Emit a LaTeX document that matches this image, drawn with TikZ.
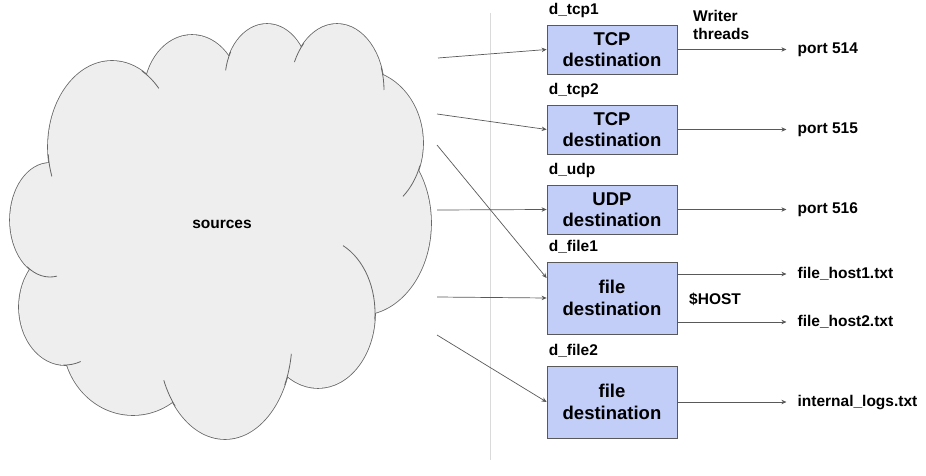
\documentclass[tikz,border=0pt]{standalone}
\usepackage{fontspec}
\setmainfont{Liberation Sans}
\usepackage{xcolor}
\usepackage{tikz}
\usetikzlibrary{positioning,arrows.meta}

\definecolor{boxblue}{RGB}{194,206,247}
\definecolor{edgegray}{RGB}{89,89,89}
\definecolor{cloudfill}{RGB}{238,238,238}
\definecolor{cloudline}{RGB}{102,102,102}
\definecolor{sepgray}{RGB}{218,218,218}

\begin{document}
\begin{tikzpicture}[x=1pt, y=-1pt,
    block/.style={rectangle, draw=edgegray, line width=0.8pt, fill=boxblue, minimum width=130pt, minimum height=49pt, align=center, inner sep=2pt, font=\fontsize{18.5}{21.5}\selectfont\bfseries},
    lbl/.style={inner sep=2pt, text height=11pt, text depth=3pt, font=\fontsize{15.5}{18}\selectfont\bfseries},
    arrow/.style={-{Stealth[length=5pt,width=4.5pt]}, draw=edgegray, line width=0.7pt},
    lobe/.style={draw=cloudline, line width=1.6pt},
    curl/.style={draw=cloudline, line width=0.8pt}]

    \useasboundingbox (0,0) rectangle (926,476);

    % cloud: thick outlines first, fill on top leaves the outer half
    \foreach \cx/\cy/\rx/\ry in {112/147/64/86, 192/95/48/60, 267/80/42/56, 337/90/47/66,
        360/143/63/73, 360/223/71/92, 318/313/57/75, 225/340/67/99, 133/340/70/75,
        65/307/46/58, 50/220/40/57}
        \draw[lobe] (\cx,\cy) ellipse[x radius=\rx, y radius=\ry];
    \foreach \cx/\cy/\rx/\ry in {112/147/64/86, 192/95/48/60, 267/80/42/56, 337/90/47/66,
        360/143/63/73, 360/223/71/92, 318/313/57/75, 225/340/67/99, 133/340/70/75,
        65/307/46/58, 50/220/40/57, 225/235/160/150}
        \fill[cloudfill] (\cx,\cy) ellipse[x radius=\rx, y radius=\ry];
    \foreach \cx/\cy/\rx/\ry/\a/\b in {112/147/64/86/175/160, 112/147/64/86/-62/-43,
        267/80/42/56/-150/-170, 337/90/47/66/-135/-155, 337/90/47/66/-20/0,
        360/143/63/73/18/47, 318/313/57/75/5/-64, 225/340/67/99/27/8,
        225/340/67/99/138/156, 65/307/46/58/92/70, 50/220/40/57/125/80}
        \draw[curl] ({\cx+\rx*cos(\a)},{\cy+\ry*sin(\a)}) arc[start angle=\a, end angle=\b, x radius=\rx, y radius=\ry];
    \node[lbl] (sources) at (222,224) {sources};

    % separator
    \coordinate (septop) at (490,13);
    \coordinate (sepbot) at (490,460);
    \draw[sepgray, line width=0.8pt] (septop) -- (sepbot);

    % destinations
    \node[block] (tcpa) at (612,49.5) {TCP\\destination};
    \node[block, below=30.2pt of tcpa] (tcpb) {TCP\\destination};
    \node[block, below=30.2pt of tcpb] (udp) {UDP\\destination};
    \node[block, minimum height=72pt, below=27.2pt of udp] (filea) {file\\destination};
    \node[block, minimum height=72pt, below=31.2pt of filea] (fileb) {file\\destination};

    \foreach \b/\t in {tcpa/d\_tcp1, tcpb/d\_tcp2, udp/d\_udp, filea/d\_file1, fileb/d\_file2}
        \node[lbl, anchor=base west] (name-\b) at ([yshift=10pt]\b.north west) {\t};

    \node[inner sep=2pt, align=left, anchor=west, font=\fontsize{15.5}{18}\selectfont\bfseries] (writer) at (691,25) {Writer\\threads};
    \node[lbl, anchor=west] (host) at (687,300) {\$HOST};

    % outputs
    \node[lbl, right=118pt of tcpa] (p514) {port 514};
    \node[lbl, right=118pt of tcpb] (p515) {port 515};
    \node[lbl, right=118pt of udp] (p516) {port 516};
    \node[lbl, right=118pt of filea.east, yshift=24pt] (fha) {file\_host1.txt};
    \node[lbl, right=118pt of filea.east, yshift=-24pt] (fhb) {file\_host2.txt};
    \node[lbl, right=118pt of fileb] (ilog) {internal\_logs.txt};

    \draw[arrow, shorten >=9pt] (tcpa) -- (p514);
    \draw[arrow, shorten >=9pt] (tcpb) -- (p515);
    \draw[arrow, shorten >=9pt] (udp) -- (p516);
    \draw[arrow, shorten >=9pt] (filea.east |- fha) -- (fha);
    \draw[arrow, shorten >=9pt] (filea.east |- fhb) -- (fhb);
    \draw[arrow, shorten >=9pt] (fileb) -- (ilog);

    % inputs from the cloud
    \coordinate (ina) at (438,58);
    \coordinate (inb) at (437,114);
    \coordinate (inc) at (437,145);
    \coordinate (ind) at (437,210);
    \coordinate (ine) at (437,297);
    \coordinate (inf) at (437,335);
    \draw[arrow] (ina) -- (tcpa.west);
    \draw[arrow] (inb) -- (tcpb.west);
    \draw[arrow] (inc) -- ([yshift=20pt]filea.west);
    \draw[arrow] (ind) -- (udp.west);
    \draw[arrow] (ine) -- (filea.west);
    \draw[arrow] (inf) -- (fileb.west);
\end{tikzpicture}
\end{document}
